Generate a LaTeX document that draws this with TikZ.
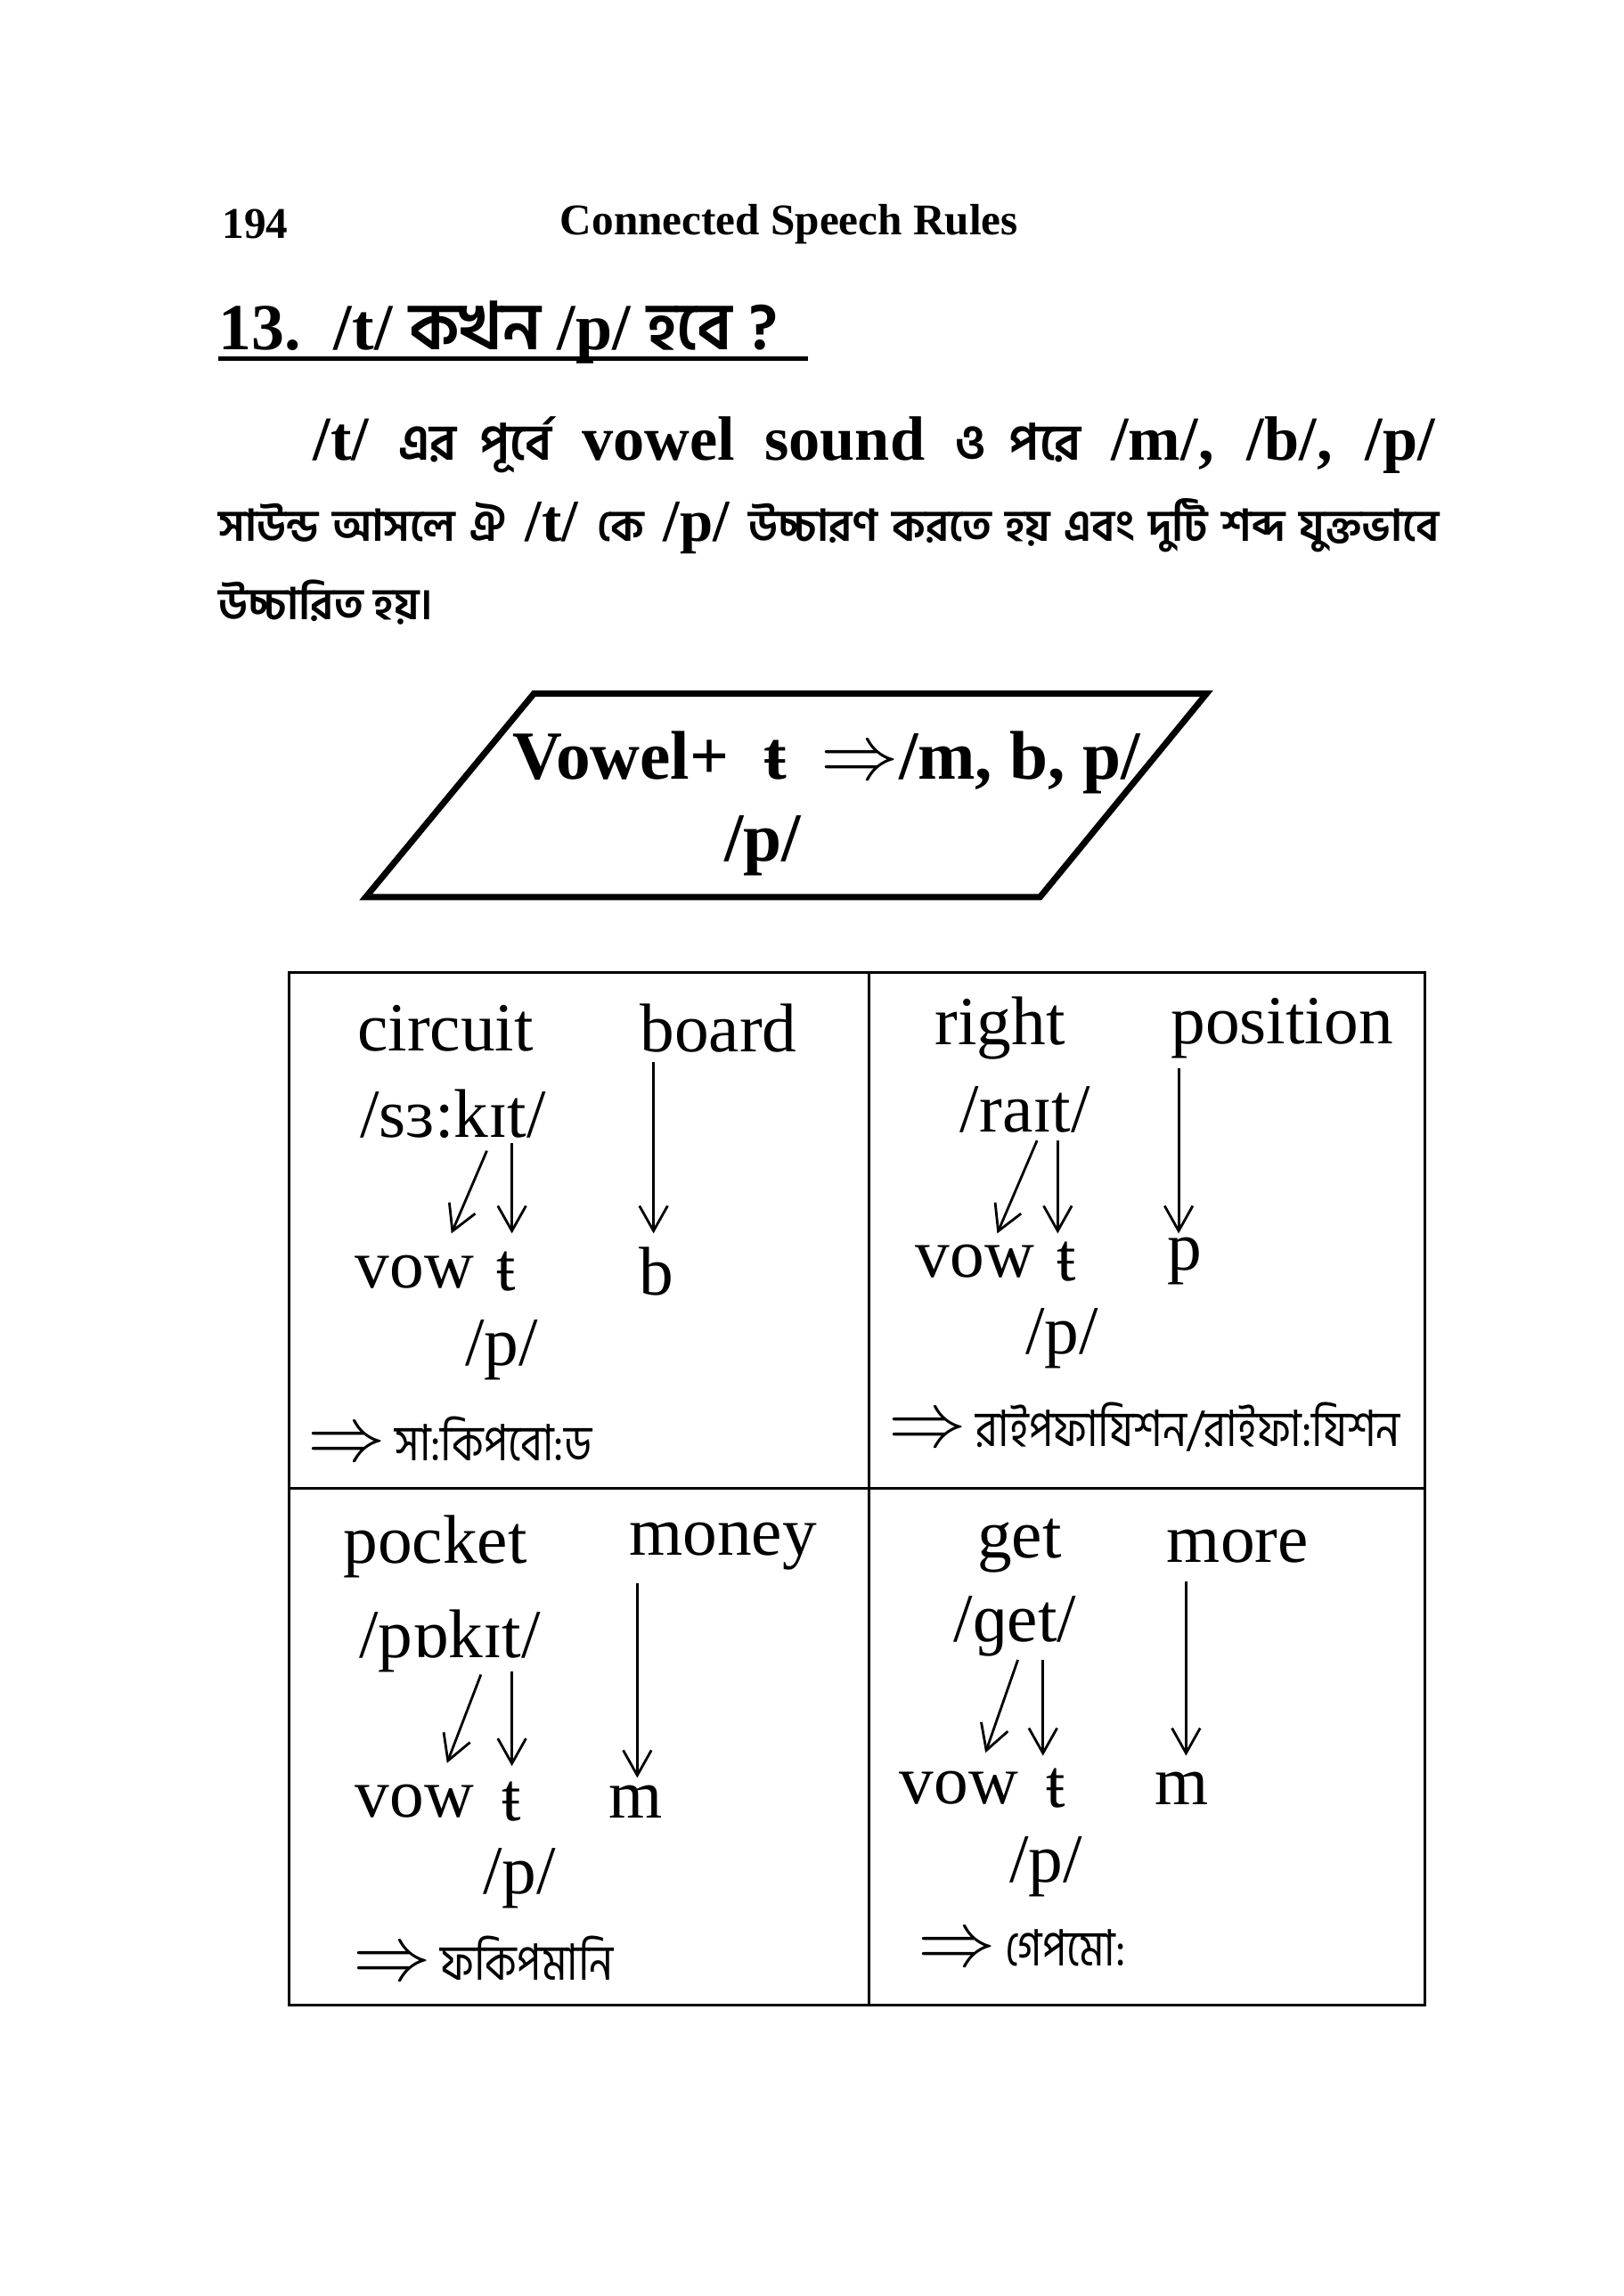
\documentclass[tikz,border=0pt]{standalone}
\usepackage{fontspec}
\setmainfont{Liberation Serif}
\newfontfamily\bn[Script=Bengali]{Hind Siliguri}
\newfontfamily\bnc[Script=Bengali,FakeStretch=0.85]{Hind Siliguri}
\usetikzlibrary{arrows.meta}
\newcommand{\bigimp}{{\fontsize{24}{24}\selectfont$\Rightarrow$}}
\tikzset{
  w/.style={font=\fontsize{22}{24}\selectfont, inner sep=0pt},
  bnt/.style={font=\fontsize{16}{20}\selectfont\bnc, inner sep=0pt, anchor=west},
  arr/.style={-{Straight Barb[length=8pt,width=9pt]}, line width=0.8pt},
  hd/.style={font=\fontsize{14}{16}\selectfont\bfseries, inner sep=0pt},
}
\begin{document}
\begin{tikzpicture}[x=0.01656cm,y=-0.01656cm]
\useasboundingbox (0,0) rectangle (1100.3,1556.2);
% header
\node[hd] (pg) at (173,152) {194};
\node[hd] (hdr) at (535,152) {Connected Speech Rules};
% title
\node[inner sep=0pt, anchor=base west, font=\fontsize{21}{24}\selectfont\bfseries] (title) at (148,237)
  {13.\ \ /t/ {\bn কখন} /p/ {\bn হবে ?}};
\draw[line width=1.2pt] (148,243) -- (548,243);
% paragraph
\node[inner sep=0pt, anchor=base west, font=\fontsize{20}{24}\selectfont\bfseries] (p1b) at (212,312)
  {\makebox[12.59cm][s]{/t/ {\fontsize{16}{20}\selectfont\bn এর পূর্বে} vowel sound {\fontsize{16}{20}\selectfont\bn ও পরে} /m/, /b/, /p/}};
\node[inner sep=0pt, anchor=base west, font=\fontsize{19}{24}\selectfont\bfseries] (p2) at (148,367)
  {\makebox[13.7cm][s]{{\fontsize{14}{20}\selectfont\bn সাউন্ড আসলে ঐ} /t/ {\fontsize{14}{20}\selectfont\bn কে} /p/ {\fontsize{14}{20}\selectfont\bn উচ্চারণ করতে হয় এবং দুটি শব্দ যুক্তভাবে}}};
\node[inner sep=0pt, anchor=base west, font=\fontsize{14}{20}\selectfont\bfseries\bn] (p3) at (148,420) {উচ্চারিত হয়।};
% parallelogram
\draw[line width=2pt, line join=miter] (362,470) -- (818,470) -- (705,608) -- (248,608) -- cycle;
\node[inner sep=0pt, anchor=base west, font=\fontsize{22}{24}\selectfont\bfseries] (rule) at (347,528)
  {Vowel+\ \ ŧ\ \ \bigimp/m, b, p/};
\node[inner sep=0pt, font=\fontsize{22}{24}\selectfont\bfseries] (rulep) at (517,573) {/p/};
% table
\draw[line width=0.8pt] (196,659) rectangle (966,1359);
\draw[line width=0.8pt] (589,659) -- (589,1359);
\draw[line width=0.8pt] (196,1009) -- (966,1009);
% cell 1
\node[w] (c1a) at (302,697) {circuit};
\node[w] (c1b) at (487,697) {board};
\node[w] (c1i) at (307,755) {/sɜ:kɪt/};
\node[w] (c1v) at (281,862) {vow};
\node[w] (c1t) at (343,862) {ŧ};
\node[w] (c1c) at (445,862) {b};
\node[w] (c1p) at (340,915) {/p/};
\node[bnt] (c1r) at (208,975) {\bigimp\ সা:কিপবো:ড};
\coordinate (c1s1) at (330,780); \coordinate (c1e1) at (306,836);
\coordinate (c1s2) at (347,775); \coordinate (c1e2) at (347,836);
\coordinate (c1s3) at (443,720); \coordinate (c1e3) at (443,836);
\draw[arr] (c1s1) -- (c1e1); \draw[arr] (c1s2) -- (c1e2); \draw[arr] (c1s3) -- (c1e3);
% cell 2
\node[w] (c2a) at (678,697) {right};
\node[w] (c2b) at (869,697) {position};
\node[w] (c2i) at (695,752) {/raɪt/};
\node[w] (c2v) at (661,855) {vow};
\node[w] (c2t) at (723,855) {ŧ};
\node[w] (c2c) at (803,855) {p};
\node[w] (c2p) at (720,907) {/p/};
\node[bnt] (c2r) at (602,967) {\bigimp\ রাইপফাযিশন/রাইফা:যিশন};
\coordinate (c2s1) at (703,773); \coordinate (c2e1) at (676,836);
\coordinate (c2s2) at (717,773); \coordinate (c2e2) at (717,836);
\coordinate (c2s3) at (799,724); \coordinate (c2e3) at (799,836);
\draw[arr] (c2s1) -- (c2e1); \draw[arr] (c2s2) -- (c2e2); \draw[arr] (c2s3) -- (c2e3);
% cell 3
\node[w] (c3a) at (295,1048) {pocket};
\node[w] (c3b) at (490,1048) {money};
\node[w] (c3i) at (305,1112) {/pɒkɪt/};
\node[w] (c3v) at (281,1221) {vow};
\node[w] (c3t) at (347,1221) {ŧ};
\node[w] (c3c) at (431,1221) {m};
\node[w] (c3p) at (352,1273) {/p/};
\node[bnt] (c3r) at (239,1327) {\bigimp\ ফকিপমানি};
\coordinate (c3s1) at (326,1135); \coordinate (c3e1) at (303,1195);
\coordinate (c3s2) at (347,1133); \coordinate (c3e2) at (347,1197);
\coordinate (c3s3) at (432,1073); \coordinate (c3e3) at (432,1205);
\draw[arr] (c3s1) -- (c3e1); \draw[arr] (c3s2) -- (c3e2); \draw[arr] (c3s3) -- (c3e3);
% cell 4
\node[w] (c4a) at (691,1048) {get};
\node[w] (c4b) at (839,1048) {more};
\node[w] (c4i) at (688,1102) {/ɡet/};
\node[w] (c4v) at (650,1212) {vow};
\node[w] (c4t) at (716,1212) {ŧ};
\node[w] (c4c) at (801,1212) {m};
\node[w] (c4p) at (709,1265) {/p/};
\node[bnt] (c4r) at (622,1320) {\bigimp\ গেপমো:};
\coordinate (c4s1) at (690,1125); \coordinate (c4e1) at (668,1188);
\coordinate (c4s2) at (707,1125); \coordinate (c4e2) at (707,1190);
\coordinate (c4s3) at (804,1072); \coordinate (c4e3) at (804,1190);
\draw[arr] (c4s1) -- (c4e1); \draw[arr] (c4s2) -- (c4e2); \draw[arr] (c4s3) -- (c4e3);
\end{tikzpicture}
\end{document}
